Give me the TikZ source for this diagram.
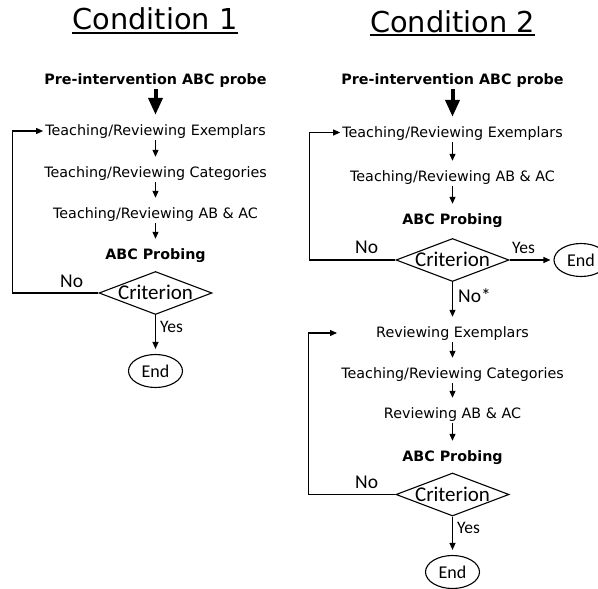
\documentclass[tikz,border=0pt]{standalone}
\usepackage{fontspec}
\setmainfont{DejaVu Sans}
\newfontfamily\gillish{Carlito}
\usetikzlibrary{arrows.meta,shapes.geometric}

\begin{document}
\begin{tikzpicture}[x=1pt,y=-1pt,
  steptext/.style={font=\fontsize{14.3}{16}\selectfont, inner xsep=2pt, inner ysep=0pt,
    text height=20pt, text depth=5pt, anchor=base},
  boldtext/.style={steptext, font=\fontsize{14.3}{16}\selectfont\bfseries},
  title/.style={font=\fontsize{28.8}{32}\selectfont, anchor=base, inner sep=0pt},
  underline/.style={line width=1.6pt},
  check/.style={diamond, draw, line width=1.1pt, shape aspect=2.6, minimum width=113pt,
    minimum height=43pt, inner sep=0pt, text height=13pt, text depth=0pt,
    font=\gillish\fontsize{21}{24}\selectfont},
  finish/.style={ellipse, draw, line width=1.1pt, minimum width=54pt, minimum height=33pt,
    inner sep=0pt, font=\gillish\fontsize{18}{20}\selectfont},
  lbl/.style={font=\gillish\fontsize{19.5}{22}\selectfont, inner sep=0pt, anchor=base west},
  yeslbl/.style={lbl, font=\gillish\fontsize{17.5}{20}\selectfont},
  flow/.style={-{Triangle[width=6pt,length=7pt]}, line width=1.1pt},
  bigflow/.style={-{Triangle[width=14pt,length=17pt]}, line width=4pt}]

\useasboundingbox (0,0) rectangle (598,589);

% ---------------- Condition 1 ----------------
\node[title] (t1) at (155,30) {Condition 1};
\draw[underline] ([yshift=-3pt]t1.base west) -- ([yshift=-3pt]t1.base east);

\node[boldtext] (p1) at (155.5,84)  {Pre-intervention ABC probe};
\node[steptext] (e1) at (155.5,135) {Teaching/Reviewing Exemplars};
\node[steptext] (c1) at (155.5,177) {Teaching/Reviewing Categories};
\node[steptext] (a1) at (155.5,218) {Teaching/Reviewing AB \& AC};
\node[boldtext] (b1) at (155.5,259) {ABC Probing};
\node[check]    (d1) at (155.5,293) {Criterion};
\node[finish]   (f1) at (155.5,371) {End};
\node[lbl]      (n1) at (60,287)    {No};
\node[yeslbl]   (y1) at (160,332)   {Yes};

\draw[bigflow] (p1) -- (e1);
\draw[flow] (e1) -- (c1);
\draw[flow] (c1) -- (a1);
\draw[flow] (a1) -- (b1);
\draw[flow, shorten >=5pt] (d1) -- (f1);
\draw[flow] (d1.west) -- ++(-86,0) |- ([yshift=-3.5pt]e1.west);

% ---------------- Condition 2 ----------------
\node[title] (t2) at (452.5,32) {Condition 2};
\draw[underline] ([yshift=-3pt]t2.base west) -- ([yshift=-3pt]t2.base east);

\node[boldtext] (p2) at (452.5,84)  {Pre-intervention ABC probe};
\node[steptext] (e2) at (452.5,137) {Teaching/Reviewing Exemplars};
\node[steptext] (a2) at (452.5,181) {Teaching/Reviewing AB \& AC};
\node[boldtext] (b2) at (452.5,224) {ABC Probing};
\node[check]    (d2) at (452.5,260) {Criterion};
\node[finish]   (f2) at (581,260)   {End};
\node[lbl]      (n2) at (355,253)   {No};
\node[yeslbl]   (y2) at (512,253)   {Yes};
\node[lbl]      (s2) at (458,302)   {No*};

\draw[bigflow] (p2) -- (e2);
\draw[flow] (e2) -- (a2);
\draw[flow] (a2) -- (b2);
\draw[flow, shorten >=3pt] (d2) -- (f2);
\draw[flow] (d2.west) -- ++(-86,0) |- ([yshift=-3pt]e2.west);

% second cycle
\node[steptext] (r2) at (452.5,337) {Reviewing Exemplars};
\node[steptext] (c2) at (452.5,378) {Teaching/Reviewing Categories};
\node[steptext] (v2) at (452.5,418) {Reviewing AB \& AC};
\node[boldtext] (b3) at (452.5,461) {ABC Probing};
\node[check]    (d3) at (452.5,494.5) {Criterion};
\node[finish]   (f3) at (452.5,572) {End};
\node[lbl]      (n3) at (355,488)   {No};
\node[yeslbl]   (y3) at (457,533)   {Yes};
\coordinate (r2in) at (337,333);

\draw[flow] (d2) -- (r2);
\draw[flow] (r2) -- (c2);
\draw[flow] (c2) -- (v2);
\draw[flow] (v2) -- (b3);
\draw[flow, shorten >=5pt] (d3) -- (f3);
\draw[flow] (d3.west) -- ++(-87,0) |- (r2in);
\end{tikzpicture}
\end{document}
